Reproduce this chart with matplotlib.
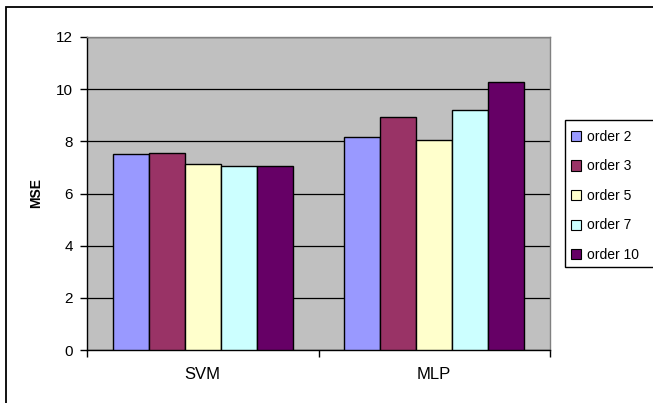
import matplotlib
matplotlib.use("Agg")
import matplotlib.pyplot as plt
from matplotlib.patches import Patch, Rectangle
import numpy as np

plt.rcParams['font.family'] = ['Liberation Sans', 'DejaVu Sans']

categories = ["SVM", "MLP"]
series_names = ["order 2", "order 3", "order 5", "order 7", "order 10"]
values = {
    "order 2": [7.52, 8.17],
    "order 3": [7.55, 8.93],
    "order 5": [7.15, 8.06],
    "order 7": [7.05, 9.20],
    "order 10": [7.06, 10.28],
}
colors = ["#9999FF", "#993366", "#FFFFCC", "#CCFFFF", "#660066"]
yticks = [0, 2, 4, 6, 8, 10, 12]

FS = 10
W, H = 653, 403
fig = plt.figure(figsize=(W / 100, H / 100), dpi=100)

# outer chart frame (right/bottom edges fall outside the image)
fig.patches.append(Rectangle((6 / W, -0.1), 1.2, 1 - 7 / H + 0.1,
                             transform=fig.transFigure, fill=False,
                             edgecolor="black", linewidth=1.3, zorder=0))

ax_l, ax_r, ax_t, ax_b = 87, 550, 37, 350
ax = fig.add_axes([ax_l / W, 1 - ax_b / H, (ax_r - ax_l) / W, (ax_b - ax_t) / H])
ax.set_facecolor("#C0C0C0")

n = len(series_names)
group_w = 0.776
bw = group_w / n
x = np.arange(len(categories)) + 0.5
for i, (name, c) in enumerate(zip(series_names, colors)):
    offs = -group_w / 2 + bw * (i + 0.5)
    ax.bar(x + offs, values[name], width=bw, color=c, edgecolor="black",
           linewidth=1.0, zorder=3, label=name)

ax.set_xlim(0, len(categories))
ax.set_ylim(0, 12)
ax.set_yticks(yticks)
ax.set_yticklabels([str(t) for t in yticks], fontsize=11)
ax.yaxis.grid(True, color="black", linewidth=0.9, zorder=1)
ax.set_axisbelow(True)

ax.set_xticks([0, 1, 2])
ax.set_xticklabels([])
ax.set_xticks(x, minor=True)
ax.set_xticklabels(categories, minor=True, fontsize=12)
ax.tick_params(axis="x", which="major", direction="out", length=5, width=1)
ax.tick_params(axis="x", which="minor", length=0, pad=12)
ax.tick_params(axis="y", direction="out", length=5, width=1, pad=5)

for s in ["top", "right"]:
    ax.spines[s].set_color("#808080")
    ax.spines[s].set_linewidth(1.0)
for s in ["left", "bottom"]:
    ax.spines[s].set_color("black")
    ax.spines[s].set_linewidth(1.0)

ax.set_ylabel("MSE", fontsize=FS, fontweight="bold", labelpad=9)

# legend
fig.patches.append(Rectangle((565 / W, 1 - 267 / H), 0.3, (267 - 120) / H,
                             transform=fig.transFigure, facecolor="white",
                             edgecolor="black", linewidth=1.0, zorder=5))
handles = [Patch(facecolor=c, edgecolor="black", linewidth=0.8) for c in colors]
leg = fig.legend(handles, series_names, loc="upper left",
                 bbox_to_anchor=(568 / W, 1 - 127 / H), frameon=False,
                 fontsize=FS, handlelength=0.75, handleheight=0.75,
                 handletextpad=0.45, labelspacing=1.12, borderpad=0.2,
                 borderaxespad=0)
leg.set_zorder(6)

fig.savefig("out.png", dpi=100)
